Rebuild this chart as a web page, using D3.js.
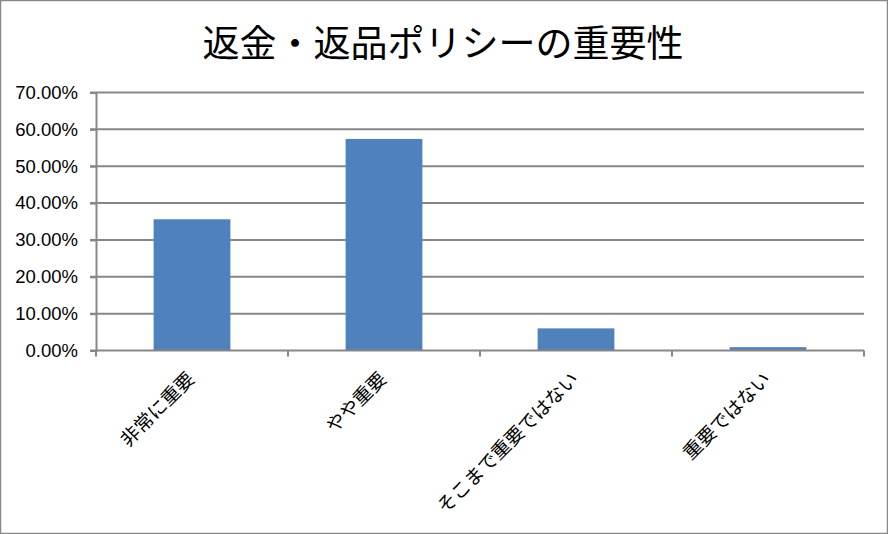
<!DOCTYPE html>
<html><head><meta charset="utf-8">
<script src="https://cdn.jsdelivr.net/npm/d3@7"></script>
<style>body{margin:0;background:#fff}svg{display:block}</style>
</head><body>
<svg id="c" width="888" height="534"></svg>
<script>
const title = "返金・返品ポリシーの重要性";
const categories = ["非常に重要", "やや重要", "そこまで重要ではない", "重要ではない"];
const values = [0.356, 0.574, 0.060, 0.009];
const yTicks = [0, 0.1, 0.2, 0.3, 0.4, 0.5, 0.6, 0.7];

const svg = d3.select("#c");
const W = 888, H = 534;
const m = {left: 96, right: 24, top: 92.5, bottom: 184};
const jp = "'Noto Sans CJK JP','Noto Sans',sans-serif";
const gridColor = "#878787";

svg.append("rect").attr("x",0.5).attr("y",0.5).attr("width",W-1).attr("height",H-1)
  .attr("fill","#fff").attr("stroke","#888").attr("stroke-width",1.5);

const x = d3.scaleBand().domain(categories).range([m.left, W - m.right]).paddingInner(0.6).paddingOuter(0.3);
const y = d3.scaleLinear().domain([0, 0.7]).range([H - m.bottom + 0.5, m.top]);

// gridlines
svg.append("g").selectAll("line").data(yTicks.slice(1)).join("line")
  .attr("x1", m.left - 6).attr("x2", W - m.right)
  .attr("y1", d => y(d)).attr("y2", d => y(d))
  .attr("stroke", gridColor).attr("stroke-width", 2);

// bars
svg.append("g").selectAll("rect").data(values).join("rect")
  .attr("x", (d,i) => x(categories[i]))
  .attr("width", x.bandwidth())
  .attr("y", d => y(d))
  .attr("height", d => y(0) - y(d))
  .attr("fill", "#4F81BD");

// y axis
const yAxis = d3.axisLeft(y).tickValues(yTicks).tickFormat(d => (d*100).toFixed(2) + "%").tickSize(6).tickPadding(12);
const gy = svg.append("g").attr("transform", `translate(${m.left},0)`).call(yAxis);
gy.select(".domain").attr("stroke", gridColor).attr("stroke-width", 2);
gy.selectAll(".tick line").attr("stroke", gridColor).attr("stroke-width", 2);
gy.selectAll(".tick text").attr("font-family", "'Liberation Sans',Arial,sans-serif").attr("font-size", 18.5).attr("fill", "#000");

// x axis
const xEdges = d3.scaleLinear().domain([0, categories.length]).range([m.left, W - m.right]);
const gx = svg.append("g");
gx.append("line").attr("x1", m.left - 6).attr("x2", W - m.right).attr("y1", y(0)).attr("y2", y(0))
  .attr("stroke", gridColor).attr("stroke-width", 2);
gx.selectAll("line.t").data(d3.range(categories.length + 1)).join("line").attr("class","t")
  .attr("x1", d => xEdges(d)).attr("x2", d => xEdges(d))
  .attr("y1", y(0)).attr("y2", y(0) + 6)
  .attr("stroke", gridColor).attr("stroke-width", 2);
gx.selectAll("text").data(categories).join("text")
  .attr("transform", d => `translate(${x(d) + x.bandwidth()/2 - 1},${y(0) + 25}) rotate(-45)`)
  .attr("text-anchor", "end")
  .attr("dy", "0.35em")
  .attr("font-family", jp).attr("font-size", 19).attr("fill", "#000")
  .text(d => d);

// title
svg.append("text").attr("x", 443).attr("y", 44).attr("dy", "0.35em")
  .attr("text-anchor", "middle").attr("font-family", jp).attr("font-size", 37)
  .attr("fill", "#000").text(title);
</script>
</body></html>
